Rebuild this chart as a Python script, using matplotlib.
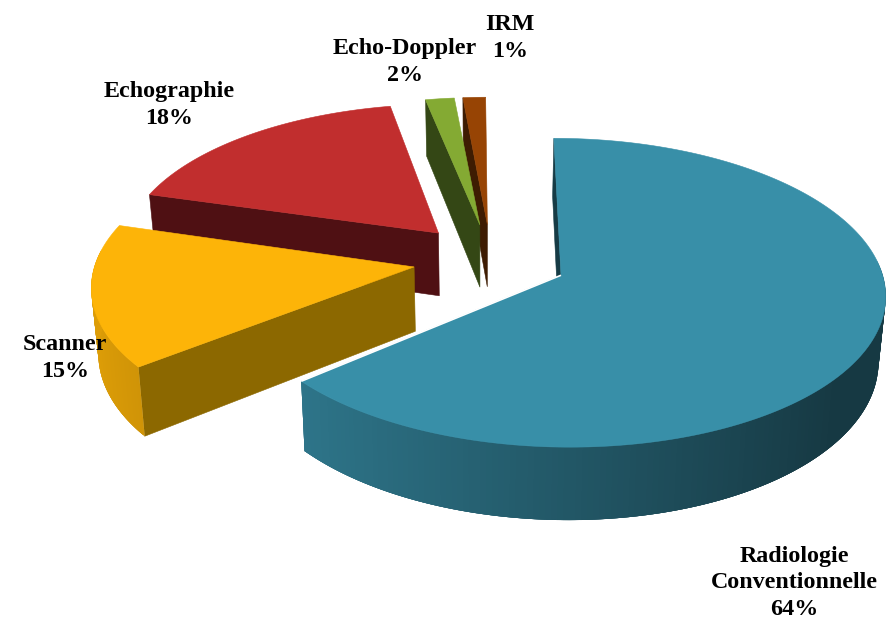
import numpy as np
import matplotlib
matplotlib.use('Agg')
import matplotlib.pyplot as plt
from matplotlib.colors import to_rgb
from matplotlib.patches import Polygon

categories = ['Radiologie\nConventionnelle', 'Scanner', 'Echographie', 'Echo-Doppler', 'IRM']
values = [63.85, 15.2, 17.5, 1.65, 1.3]
shown_pct = [64, 15, 18, 2, 1]

top_colors = ['#388fa8', '#fdb408', '#c12e2e', '#84aa33', '#974404']
face_colors = ['#163b45', '#8c6800', '#4f1013', '#344715', '#3e1c02']
explode = [0.24, 0.245, 0.25, 0.245, 0.245]
nudge = [0, -1.9, -1.5, -1.0, -1.38]          # petite rotation de chaque part, en degrés
label_pos = [(794, 583), (65, 358), (169, 105), (405, 62), (510, 38)]

# projection du plan du camembert vers les pixels
CX, CY = 491, 260
RX, RY = 318, 149
PERSP = 0.112
DEPTH = 64
VX = 484
SHRINK = 0.018


def project(X, Y, low=False):
    X = np.asarray(X, float)
    Y = np.asarray(Y, float)
    w = 1 + PERSP * Y
    sx = CX + RX * X / w
    sy = CY - RY * Y / w
    if low:
        sx = sx + (VX - sx) * SHRINK
        sy = sy + DEPTH / w
    return sx, sy


def poly(ax, x, y, color, z, edge=True):
    ax.add_patch(Polygon(np.column_stack([x, y]), closed=True, facecolor=color,
                         edgecolor=color if edge else 'none', linewidth=0.4, zorder=z))


def rim_shade(c):
    return np.interp(c, [-1, 0.78, 1], [0.88, 0.40, 0.40])


fig = plt.figure(figsize=(8.91, 6.21), dpi=100)
ax = fig.add_axes([0, 0, 1, 1])
ax.set_xlim(0, 891)
ax.set_ylim(621, 0)
ax.axis('off')

start = 90.0
draw_order = [2, 4, 3, 1, 0]
spans = []
for v, n in zip(values, nudge):
    sweep = 3.6 * v
    spans.append((start + n, start - sweep + n))
    start -= sweep

for layer, i in enumerate(draw_order):
    a0, a1 = spans[i]
    mid = np.radians((a0 + a1) / 2)
    ox, oy = explode[i] * np.cos(mid), explode[i] * np.sin(mid)
    th = np.radians(np.linspace(a0, a1, 240))
    X = ox + np.cos(th)
    Y = oy + np.sin(th)
    z = 10 + layer * 3

    # face coupée visible
    x0, y0 = project([ox, X[0]], [oy, Y[0]])
    x1, y1 = project([ox, X[0]], [oy, Y[0]], low=True)
    poly(ax, [x0[0], x0[1], x1[1], x1[0]], [y0[0], y0[1], y1[1], y1[0]], face_colors[i], z)

    # bord extérieur avec dégradé, chaque bande recouvre un peu la suivante
    base = np.array(to_rgb(top_colors[i]))
    xt, yt = project(X, Y)
    xb, yb = project(X, Y, low=True)
    idx = [k for k in range(len(th)) if np.sin(th[k]) < 0.1]
    for k in idx:
        e = min(k + 4, len(th) - 1)
        col = base * rim_shade(np.cos(th[k]))
        poly(ax, [xt[k], xt[e], xb[e], xb[k]],
             [yt[k], yt[e], yb[e], yb[k]], tuple(col), z + 1, edge=False)

    # dessus
    px, py = project(ox, oy)
    poly(ax, np.concatenate([[px], xt]), np.concatenate([[py], yt]), top_colors[i], z + 2)

    if i == 0:
        ax.plot([xt[-1], px], [yt[-1], py], color='white', lw=1.2, zorder=z + 2,
                solid_capstyle='butt')

for name, pct, pos in zip(categories, shown_pct, label_pos):
    ax.text(pos[0], pos[1], '%s\n%d%%' % (name, pct), ha='center', va='center',
            family='Liberation Serif', fontweight='bold', fontsize=17.3,
            linespacing=1.35, color='black', zorder=50)

plt.savefig('out.png', dpi=100)
